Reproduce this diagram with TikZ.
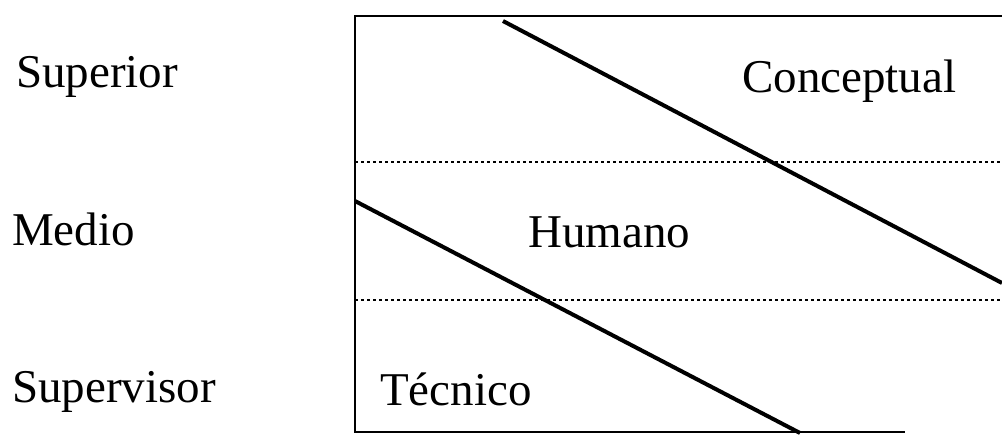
\documentclass[tikz,border=0pt]{standalone}
\usepackage{fontspec}
\setmainfont{Liberation Serif}
\usepackage{tikz}
\usetikzlibrary{positioning, calc}
\tikzset{
    level/.style={anchor=base west, inner sep=0pt, font=\fontsize{47}{50}\selectfont},
    skill/.style={anchor=base west, inner sep=0pt, font=\fontsize{47}{50}\selectfont},
    frame/.style={line width=2.4pt},
    split/.style={line width=4pt},
    band/.style={line width=2.2pt, dash pattern=on 3pt off 3pt},
}

\begin{document}
\begin{tikzpicture}[x=1pt, y=-1pt]
    \useasboundingbox (0,0) rectangle (1002,437);
    % corners of the open box
    \coordinate (tl) at (355,16);
    \coordinate (tr) at (1002,16);
    \coordinate (bl) at (355,432);
    \coordinate (br) at (905,432);
    \draw[frame] (tr) -- (tl) -- (bl) -- (br);
    % dotted level limits
    \coordinate (b1l) at (355,162);
    \coordinate (b1r) at (1002,162);
    \coordinate (b2l) at (355,300);
    \coordinate (b2r) at (1002,300);
    \draw[band] (b1l) -- (b1r);
    \draw[band] (b2l) -- (b2r);
    % skill boundaries
    \coordinate (s1a) at (503,21);
    \coordinate (s1b) at (1002,283);
    \coordinate (s2a) at (355,201);
    \coordinate (s2b) at (800,433);
    \draw[split] (s1a) -- (s1b);
    \draw[split] (s2a) -- (s2b);

    \node[level] (sup)  at (16,87)  {Superior};
    \node[level] (med)  at (12,245) {Medio};
    \node[level] (supv) at (12,402) {Supervisor};

    \node[skill] (conc) at (742,92)  {Conceptual};
    \node[skill] (hum)  at (528,247) {Humano};
    \node[skill] (tec)  at (380,405) {Técnico};
\end{tikzpicture}
\end{document}
